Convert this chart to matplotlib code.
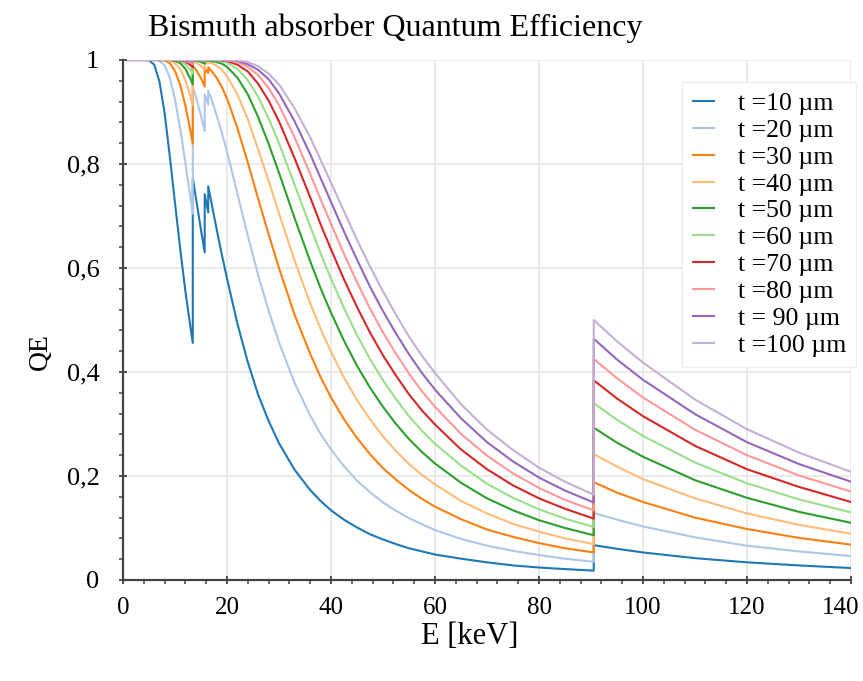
import matplotlib
matplotlib.use("Agg")
import matplotlib.pyplot as plt
from matplotlib.ticker import MultipleLocator, FuncFormatter

plt.rcParams['font.family'] = ['Liberation Serif', 'DejaVu Serif']

# photon energy in keV (absorption edges listed twice: below / above)
energy = [1, 4, 5, 6, 7, 8, 9, 10, 11, 12, 13, 13.42, 13.42, 14, 15, 15.71, 15.71,
          16.39, 16.39, 17, 18, 19, 20, 22, 24, 26, 28, 30, 33, 36, 38, 40, 42.5, 45,
          47.5, 50, 52.5, 55, 57.5, 60, 65, 70, 75, 80, 85, 90.53, 90.53, 95, 100,
          110, 120, 130, 140]

qe_10 = [1, 1, 0.9995, 0.991, 0.959, 0.898, 0.815, 0.725, 0.637, 0.555, 0.484, 0.456,
         0.773, 0.736, 0.673, 0.630, 0.742, 0.707, 0.757, 0.726, 0.675, 0.626, 0.580,
         0.493, 0.419, 0.356, 0.306, 0.263, 0.212, 0.173, 0.152, 0.134, 0.116, 0.101,
         0.088, 0.078, 0.069, 0.061, 0.055, 0.049, 0.041, 0.034, 0.028, 0.024, 0.021,
         0.018, 0.067, 0.060, 0.053, 0.042, 0.034, 0.028, 0.023]
qe_20 = [1, 1, 1, 1, 0.998, 0.990, 0.966, 0.924, 0.868, 0.802, 0.733, 0.704, 0.948,
         0.930, 0.893, 0.863, 0.934, 0.914, 0.941, 0.925, 0.894, 0.860, 0.824, 0.743,
         0.662, 0.586, 0.518, 0.457, 0.379, 0.316, 0.281, 0.251, 0.219, 0.191, 0.169,
         0.149, 0.133, 0.119, 0.107, 0.096, 0.079, 0.066, 0.056, 0.048, 0.041, 0.035,
         0.129, 0.116, 0.103, 0.082, 0.066, 0.055, 0.046]
qe_30 = [1, 1, 1, 1, 1, 0.999, 0.994, 0.979, 0.952, 0.912, 0.862, 0.839, 0.988, 0.982,
         0.965, 0.949, 0.983, 0.975, 0.986, 0.979, 0.966, 0.948, 0.926, 0.869, 0.803,
         0.733, 0.665, 0.600, 0.510, 0.435, 0.390, 0.351, 0.309, 0.273, 0.242, 0.215,
         0.193, 0.173, 0.156, 0.141, 0.117, 0.097, 0.083, 0.071, 0.061, 0.053, 0.188,
         0.168, 0.150, 0.120, 0.098, 0.081, 0.068]
qe_40 = [1, 1, 1, 1, 1, 1, 0.999, 0.994, 0.983, 0.961, 0.929, 0.913, 0.997, 0.995,
         0.989, 0.981, 0.996, 0.993, 0.997, 0.994, 0.989, 0.981, 0.969, 0.934, 0.886,
         0.828, 0.768, 0.705, 0.614, 0.532, 0.483, 0.439, 0.389, 0.346, 0.309, 0.276,
         0.248, 0.223, 0.202, 0.184, 0.152, 0.128, 0.108, 0.093, 0.080, 0.069, 0.242,
         0.218, 0.194, 0.157, 0.128, 0.106, 0.089]
qe_50 = [1, 1, 1, 1, 1, 1, 1, 0.998, 0.994, 0.983, 0.963, 0.953, 0.999, 0.999, 0.996,
         0.993, 0.999, 0.998, 0.999, 0.998, 0.996, 0.993, 0.987, 0.966, 0.934, 0.890,
         0.839, 0.783, 0.696, 0.613, 0.561, 0.514, 0.460, 0.412, 0.370, 0.333, 0.300,
         0.271, 0.246, 0.224, 0.187, 0.157, 0.134, 0.115, 0.100, 0.086, 0.293, 0.264,
         0.237, 0.192, 0.158, 0.131, 0.110]
qe_60 = [1, 1, 1, 1, 1, 1, 1, 1, 0.998, 0.992, 0.981, 0.974, 1, 1, 0.999, 0.997, 1,
         0.999, 1, 1, 0.999, 0.997, 0.995, 0.983, 0.961, 0.929, 0.888, 0.840, 0.760,
         0.680, 0.628, 0.579, 0.523, 0.471, 0.425, 0.384, 0.348, 0.315, 0.287, 0.262,
         0.220, 0.185, 0.158, 0.136, 0.118, 0.102, 0.340, 0.308, 0.277, 0.226, 0.186,
         0.155, 0.130]
qe_70 = [1, 1, 1, 1, 1, 1, 1, 1, 0.999, 0.997, 0.990, 0.986, 1, 1, 1, 0.999, 1, 1, 1,
         1, 1, 0.999, 0.998, 0.991, 0.978, 0.954, 0.922, 0.882, 0.811, 0.736, 0.684,
         0.636, 0.578, 0.525, 0.476, 0.432, 0.393, 0.357, 0.326, 0.299, 0.251, 0.213,
         0.182, 0.157, 0.137, 0.118, 0.384, 0.349, 0.315, 0.258, 0.213, 0.179, 0.150]
qe_80 = [1, 1, 1, 1, 1, 1, 1, 1, 1, 0.998, 0.995, 0.992, 1, 1, 1, 1, 1, 1, 1, 1, 1, 1,
         0.999, 0.996, 0.987, 0.971, 0.946, 0.913, 0.851, 0.781, 0.732, 0.685, 0.627,
         0.573, 0.522, 0.476, 0.435, 0.397, 0.363, 0.333, 0.281, 0.239, 0.205, 0.177,
         0.154, 0.134, 0.425, 0.388, 0.351, 0.289, 0.240, 0.201, 0.170]
qe_90 = [1, 1, 1, 1, 1, 1, 1, 1, 1, 0.999, 0.997, 0.996, 1, 1, 1, 1, 1, 1, 1, 1, 1, 1,
         1, 0.998, 0.992, 0.981, 0.963, 0.936, 0.882, 0.819, 0.773, 0.727, 0.670,
         0.616, 0.564, 0.517, 0.474, 0.434, 0.398, 0.366, 0.311, 0.265, 0.228, 0.197,
         0.172, 0.149, 0.464, 0.424, 0.385, 0.319, 0.265, 0.223, 0.189]
qe_100 = [1, 1, 1, 1, 1, 1, 1, 1, 1, 1, 0.999, 0.998, 1, 1, 1, 1, 1, 1, 1, 1, 1, 1, 1,
          0.999, 0.996, 0.988, 0.974, 0.953, 0.907, 0.851, 0.808, 0.764, 0.709, 0.654,
          0.603, 0.555, 0.510, 0.468, 0.431, 0.398, 0.338, 0.289, 0.250, 0.216, 0.189,
          0.164, 0.500, 0.459, 0.418, 0.347, 0.290, 0.245, 0.208]

labels = ['t =10 µm', 't =20 µm', 't =30 µm', 't =40 µm', 't =50 µm',
          't =60 µm', 't =70 µm', 't =80 µm', 't = 90 µm', 't =100 µm']
series = [qe_10, qe_20, qe_30, qe_40, qe_50, qe_60, qe_70, qe_80, qe_90, qe_100]
colors = ['#1f77b4', '#aec7e8', '#ff7f0e', '#ffbb78', '#2ca02c',
          '#98df8a', '#d62728', '#ff9896', '#9467bd', '#c5b0d5']

fig = plt.figure(figsize=(8.63, 6.81), dpi=100)
ax = fig.add_axes([123/863, 1-580/681, 728/863, 520/681])

for y, lab, c in zip(series, labels, colors):
    ax.plot(energy, y, color=c, lw=1.5, label=lab)

ax.set_xlim(0, 140)
ax.set_ylim(0, 1)
ax.xaxis.set_major_locator(MultipleLocator(20))
ax.xaxis.set_minor_locator(MultipleLocator(4))
ax.yaxis.set_major_locator(MultipleLocator(0.2))
ax.yaxis.set_minor_locator(MultipleLocator(0.04))
# the last x label (140) is drawn separately, pulled inside the figure
ax.xaxis.set_major_formatter(FuncFormatter(lambda v, p: '' if v >= 140 else '%g' % v))
ax.yaxis.set_major_formatter(FuncFormatter(lambda v, p: ('%g' % round(v, 2)).replace('.', ',')))
ax.grid(True, which='major', color='#e6e6e6', lw=1.2)
ax.set_axisbelow(True)

for s in ['top', 'right']:
    ax.spines[s].set_visible(False)
for s in ['left', 'bottom']:
    ax.spines[s].set_color('#444444')
    ax.spines[s].set_linewidth(1.6)

ax.tick_params(which='major', direction='inout', length=6, width=1.3, color='#444444')
ax.tick_params(which='minor', direction='out', length=3, width=1.1, color='#444444')
ax.tick_params(axis='x', labelsize=18, pad=9)
ax.tick_params(axis='y', labelsize=19, pad=14)

fig.text(841/863, 1-596.5/681, '140', fontsize=18, ha='center', va='top')

fig.text(148/863, 1-28/681, 'Bismuth absorber Quantum Efficiency', fontsize=23,
         ha='left', va='center')
fig.text(470/863, 1-636/681, 'E [keV]', fontsize=22, ha='center', va='center')
fig.text(40/863, 1-352/681, 'QE', fontsize=20, rotation=90, ha='center', va='center')

leg = ax.legend(loc='upper right', bbox_to_anchor=(1.007, 0.958), fontsize=18.5,
                frameon=True, fancybox=False, framealpha=1, edgecolor='#eeeeee',
                handlelength=0.85, handletextpad=0.9, labelspacing=0.15,
                borderpad=0.4, borderaxespad=0)

fig.savefig('out.png', dpi=100)
